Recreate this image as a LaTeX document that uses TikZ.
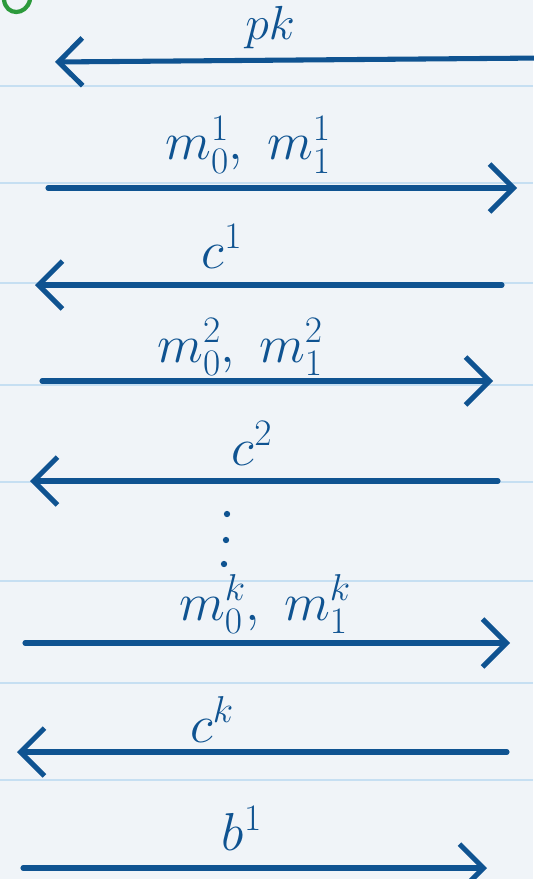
\RequirePackage{fix-cm}
\documentclass[tikz,border=0pt]{standalone}
\usepackage{amsmath}
\usepackage{tikz}
\usetikzlibrary{positioning, arrows.meta}
\usepackage{xcolor}
\definecolor{paper}{HTML}{F0F4F8}
\definecolor{ruleblue}{HTML}{C6DFF2}
\definecolor{inkblue}{HTML}{0F5391}
\definecolor{markgreen}{HTML}{2C9A3C}

\begin{document}
\begin{tikzpicture}[x=0.025cm, y=-0.025cm,
        ink/.style={draw=inkblue, line width=3.6pt, line cap=round,
            -{Straight Barb[length=17pt, width=34pt, line width=3.6pt]}},
        ruled/.style={draw=ruleblue, line width=2pt},
        msg/.style={text=inkblue, anchor=base, inner sep=0pt, font=\fontsize{38}{44}\selectfont},
        dotmark/.style={circle, fill=inkblue, inner sep=0pt, minimum size=4.5pt}]
        % Лист бумаги
        \path[use as bounding box, fill=paper] (0, 0) rectangle (533, 879);

        % Линовка
        \foreach \y in {86, 183, 283, 385, 482, 581, 683, 780} {
            \draw[ruled] (0, \y) -- (533, \y);
        }

        % Зелёный след сверху слева
        \draw[markgreen, line width=3pt, line cap=round] (4, 0) .. controls (6, 16) and (26, 16) .. (30, 0);

        % Концы стрелок
        \coordinate (pkR) at (545, 58);   \coordinate (pkL) at (55, 62);
        \coordinate (mA) at (48, 188);    \coordinate (mB) at (517, 188);
        \coordinate (cAR) at (502, 285);  \coordinate (cAL) at (35, 285);
        \coordinate (nA) at (42, 381);    \coordinate (nB) at (493, 381);
        \coordinate (cBR) at (498, 481);  \coordinate (cBL) at (30, 481);
        \coordinate (kA) at (25, 643);    \coordinate (kB) at (510, 643);
        \coordinate (cKR) at (507, 752);  \coordinate (cKL) at (17, 752);
        \coordinate (bA) at (23, 868);    \coordinate (bB) at (487, 868);

        % Сообщения
        \node[msg, font=\fontsize{34}{40}\selectfont] (lblPk) at (270, 40) {$pk$};
        \node[msg] (lblM1) at (248, 160) {$m_0^1,\; m_1^1$};
        \node[msg] (lblC1) at (222, 268) {$c^1$};
        \node[msg] (lblM2) at (240, 362) {$m_0^2,\; m_1^2$};
        \node[msg] (lblC2) at (252, 465) {$c^2$};
        \node[msg] (lblMk) at (265, 620) {$m_0^k,\; m_1^k$};
        \node[msg] (lblCk) at (212, 742) {$c^k$};
        \node[msg] (lblB) at (242, 850) {$b^1$};

        % Пропуск (точки)
        \foreach \i/\x/\y in {1/227/514, 2/226/540, 3/224/564} {
            \node[dotmark] (gap\i) at (\x, \y) {};
        }

        % Стрелки
        \draw[ink] (pkR) -- (pkL);
        \draw[ink] (mA) -- (mB);
        \draw[ink] (cAR) -- (cAL);
        \draw[ink] (nA) -- (nB);
        \draw[ink] (cBR) -- (cBL);
        \draw[ink] (kA) -- (kB);
        \draw[ink] (cKR) -- (cKL);
        \draw[ink] (bA) -- (bB);
    \end{tikzpicture}
\end{document}
